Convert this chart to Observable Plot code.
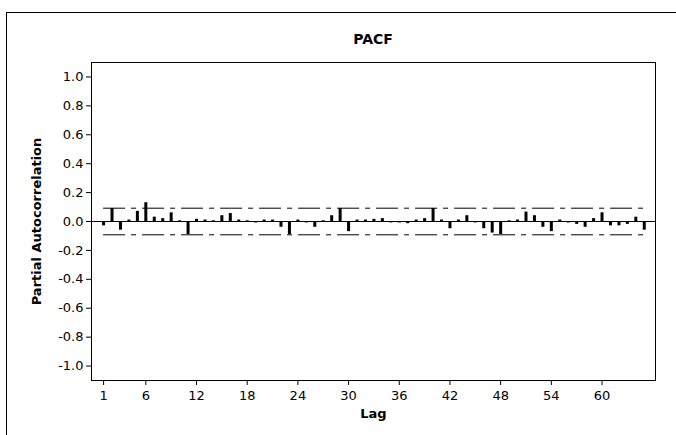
<!DOCTYPE html>
<html><head><meta charset="utf-8">
<script src="https://cdn.jsdelivr.net/npm/d3@7"></script>
<script src="https://cdn.jsdelivr.net/npm/@observablehq/plot@0.6"></script>
<style>
body{margin:0;background:#fff;}
#wrap{position:relative;width:676px;height:435px;overflow:hidden;font-family:"DejaVu Sans",sans-serif;}
#border{position:absolute;left:6px;top:12px;width:700px;height:440px;border-top:1px solid #000;border-left:1px solid #000;}
#title{position:absolute;left:91px;width:564px;top:31px;text-align:center;font-weight:bold;font-size:14px;color:#000;}
#chart{position:absolute;left:0;top:0;}
#chart svg [aria-label="x-axis label"] text, #chart svg [aria-label="y-axis label"] text{font-weight:bold;}
</style></head><body>
<div id="wrap"><div id="border"></div><div id="chart"></div><div id="title">PACF</div></div>
<script>
const lags = d3.range(1, 66);
const pacf = [
  -0.03, 0.09, -0.06, 0.01, 0.07, 0.13, 0.03, 0.02, 0.06, 0.005,
  -0.09, 0.015, 0.01, 0.005, 0.04, 0.055, 0.01, 0.005, -0.01, 0.01,
  0.01, -0.04, -0.09, 0.01, -0.01, -0.04, 0.005, 0.04, 0.09, -0.07,
  0.01, 0.01, 0.015, 0.02, -0.01, -0.01, -0.015, 0.01, 0.02, 0.09,
  0.01, -0.05, 0.01, 0.04, -0.01, -0.05, -0.08, -0.09, 0.005, 0.01,
  0.065, 0.04, -0.04, -0.07, 0.01, -0.01, -0.02, -0.04, 0.02, 0.06,
  -0.03, -0.03, -0.02, 0.03, -0.06
];
const ciUpper = 0.092;
const ciLower = -0.092;
const xTicks = [1, 6, 12, 18, 24, 30, 36, 42, 48, 54, 60];
const yTicks = [-1.0, -0.8, -0.6, -0.4, -0.2, 0.0, 0.2, 0.4, 0.6, 0.8, 1.0];

const data = lags.map((l, i) => ({lag: l, value: pacf[i]}));

const chart = Plot.plot({
  width: 676,
  height: 435,
  marginLeft: 91,
  marginRight: 21,
  marginTop: 62,
  marginBottom: 55,
  style: {fontFamily: "DejaVu Sans", fontSize: "13px", color: "#000", background: "transparent", overflow: "visible"},
  x: {domain: [-0.43, 66.33]},
  y: {domain: [-1.1, 1.1]},
  marks: [
    Plot.axisX({ticks: xTicks, tickSize: 5, tickPadding: 5, label: "Lag", labelAnchor: "center", labelArrow: "none", labelOffset: 37, fontSize: 13}),
    Plot.axisY({ticks: yTicks, tickSize: 5, tickPadding: 3, tickFormat: d => d.toFixed(1), label: "Partial Autocorrelation", labelAnchor: "center", labelArrow: "none", labelOffset: 60, fontSize: 13}),
    Plot.ruleY([0], {stroke: "#000", strokeWidth: 1}),
    Plot.ruleY([ciUpper, ciLower], {x1: lags[0], x2: lags[lags.length - 1], stroke: "#000", strokeWidth: 1, strokeDasharray: "22,6,5,6"}),
    Plot.ruleX(data, {x: "lag", y1: 0, y2: "value", stroke: "#000", strokeWidth: 3}),
    Plot.frame({stroke: "#000", strokeWidth: 1})
  ]
});
document.getElementById("chart").appendChild(chart);
</script>
</body></html>
